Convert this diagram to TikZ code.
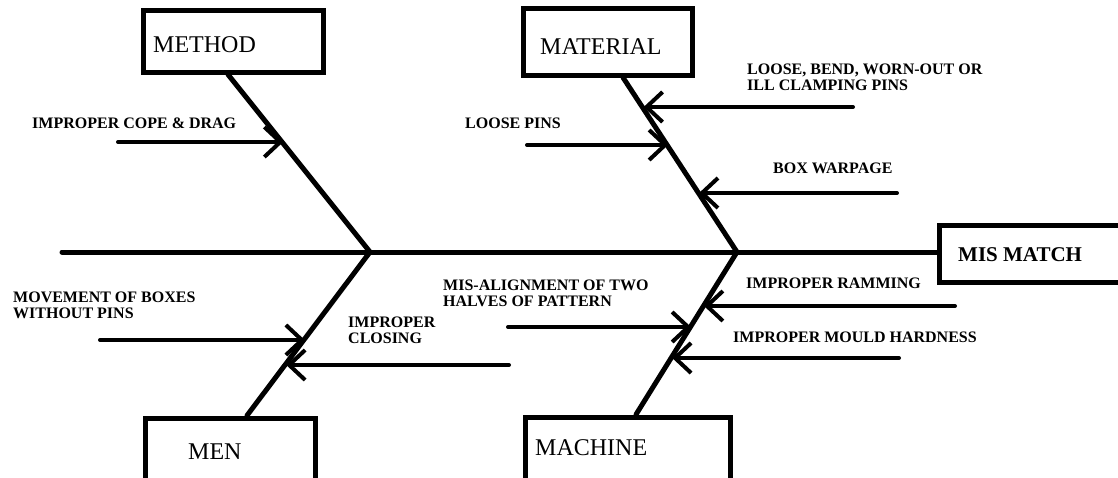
\documentclass[tikz,border=0pt]{standalone}
\usepackage{fontspec}
\setmainfont{Liberation Serif}
\usetikzlibrary{arrows.meta}
\begin{document}
\begin{tikzpicture}[x=1pt,y=-1pt,
  catbox/.style={draw, line width=5pt, rectangle, inner sep=0pt},
  cat/.style={anchor=west, inner sep=0pt, font=\fontsize{24}{24}\selectfont},
  bone/.style={line width=5pt, line cap=round},
  cause/.style={line width=4pt, line cap=round, -{Straight Barb[length=16pt,width=30pt]}},
  lbl/.style={anchor=west, inner sep=0pt, align=left, font=\fontsize{16}{16}\selectfont\bfseries}]
\useasboundingbox (0,0) rectangle (1118,477);

\node[catbox, minimum width=180pt, minimum height=62pt] (method) at (233,41) {};
\node[catbox, minimum width=169pt, minimum height=67pt] (material) at (607.5,41.5) {};
\node[catbox, minimum width=170pt, minimum height=72pt] (men) at (230,454) {};
\node[catbox, minimum width=205pt, minimum height=68pt] (machine) at (627.5,451) {};
\node[catbox, minimum width=195pt, minimum height=57pt] (effect) at (1036.5,253.5) {};

\node[cat] (methodtxt) at (153,45) {METHOD};
\node[cat] (materialtxt) at (540,47) {MATERIAL};
\node[cat] (mentxt) at (188,452) {MEN};
\node[cat] (machinetxt) at (535,448) {MACHINE};
\node[cat, font=\fontsize{21}{21}\selectfont\bfseries] (effecttxt) at (958,255) {MIS MATCH};

\coordinate (head) at (62,252);
\coordinate (J1) at (370,252);
\coordinate (J2) at (737,252);
\coordinate (B1) at ([xshift=-5pt]method.south);
\coordinate (B2) at ([xshift=15.5pt]material.south);
\coordinate (B3) at ([xshift=17pt]men.north);
\coordinate (B4) at ([xshift=8.5pt]machine.north);

\draw[bone] (head) -- (head -| effect.west);
\draw[bone] (B1) -- (J1) -- (B3);
\draw[bone] (B2) -- (J2) -- (B4);

\path (B1)--(J1) coordinate[pos=0.389](c1);
\path (B2)--(J2) coordinate[pos=0.181](c2) coordinate[pos=0.395](c3) coordinate[pos=0.667](c4);
\path (J1)--(B3) coordinate[pos=0.530](c5) coordinate[pos=0.681](c6);
\path (J2)--(B4) coordinate[pos=0.327](c7) coordinate[pos=0.455](c8) coordinate[pos=0.642](c9);

\coordinate (t1) at (118,142);
\coordinate (t2) at (527,145);
\coordinate (t3) at (853,107);
\coordinate (t4) at (897,193);
\coordinate (t5) at (100,340);
\coordinate (t6) at (509,365);
\coordinate (t7) at (508,327);
\coordinate (t8) at (955,306);
\coordinate (t9) at (899,358);

\draw[cause] (t1) -- (c1 |- t1);
\draw[cause] (t2) -- (c3 |- t2);
\draw[cause] (t3) -- (c2 |- t3);
\draw[cause] (t4) -- (c4 |- t4);
\draw[cause] (t5) -- (c5 |- t5);
\draw[cause] (t6) -- (c6 |- t6);
\draw[cause] (t7) -- (c8 |- t7);
\draw[cause] (t8) -- (c7 |- t8);
\draw[cause] (t9) -- (c9 |- t9);

\node[lbl] (l1) at (32,123) {IMPROPER COPE \& DRAG};
\node[lbl] (l2) at (465,123) {LOOSE PINS};
\node[lbl] (l3) at (747,77) {LOOSE, BEND, WORN-OUT OR\\ILL CLAMPING PINS};
\node[lbl] (l4) at (773,168) {BOX WARPAGE};
\node[lbl] (l5) at (13,305) {MOVEMENT OF BOXES\\WITHOUT PINS};
\node[lbl] (l6) at (348,330) {IMPROPER\\CLOSING};
\node[lbl] (l7) at (443,293) {MIS-ALIGNMENT OF TWO\\HALVES OF PATTERN};
\node[lbl] (l8) at (746,283) {IMPROPER RAMMING};
\node[lbl] (l9) at (733,337) {IMPROPER MOULD HARDNESS};
\end{tikzpicture}
\end{document}
